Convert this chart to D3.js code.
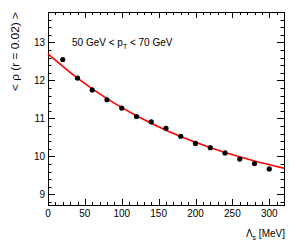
<!DOCTYPE html>
<html><head><meta charset="utf-8">
<script src="https://cdn.jsdelivr.net/npm/d3@7"></script>
<style>body{margin:0;background:#fff}svg{display:block}text{font-family:"Liberation Sans",Arial,sans-serif;fill:#000}</style>
</head><body>
<svg id="c" width="300" height="245"></svg>
<script>
const lambdaS = [20,40,60,80,100,120,140,160,180,200,220,240,260,280,300];
const rho = [12.55,12.06,11.75,11.49,11.27,11.05,10.91,10.74,10.53,10.34,10.23,10.09,9.93,9.81,9.67];
const fitX = [0,40,80,120,160,200,240,280,320];
const fitY = [12.70,12.06,11.52,11.07,10.69,10.37,10.10,9.88,9.69];
const xTicks = [0,50,100,150,200,250,300];
const yTicks = [9,10,11,12,13];

const svg = d3.select("#c");
const L=48,R=284,T=12,B=205;
const x = d3.scaleLinear().domain([0,320]).range([L,R]);
const y = d3.scaleLinear().domain([8.72,13.8]).range([B,T]);

const g = svg.append("g");
const xMinor = d3.range(0,321,10);
const yMinor = d3.range(8.8,13.81,0.2).map(v=>+v.toFixed(2));
function tick(x1,y1,x2,y2){g.append("line").attr("x1",x1).attr("y1",y1).attr("x2",x2).attr("y2",y2).attr("stroke","#000").attr("stroke-width",1);}
xMinor.forEach(v=>{
  const maj = v%50===0; const len = maj?6:3; const px=Math.round(x(v))+0.5;
  tick(px,B,px,B-len); tick(px,T,px,T+len);
});
yMinor.forEach(v=>{
  if(v<8.72||v>13.8) return;
  const maj = Math.abs(v-Math.round(v))<1e-6; const len = maj?7:3.5; const py=Math.round(y(v))+0.5;
  tick(L,py,L+len,py); tick(R,py,R-len,py);
});
g.append("rect").attr("x",L+0.5).attr("y",T+0.5).attr("width",R-L).attr("height",B-T).attr("fill","none").attr("stroke","#000").attr("stroke-width",1);

svg.selectAll(".xl").data(xTicks).enter().append("text").attr("x",d=>x(d)).attr("y",217)
  .attr("text-anchor","middle").attr("font-size","10px").text(d=>d);
svg.selectAll(".yl").data(yTicks).enter().append("text").attr("x",45).attr("y",d=>y(d)+3.6)
  .attr("text-anchor","end").attr("font-size","10px").text(d=>d);

const line = d3.line().x((d,i)=>x(fitX[i])).y(d=>y(d)).curve(d3.curveMonotoneX);
svg.append("path").attr("d",line(fitY)).attr("fill","none").attr("stroke","#ff0000").attr("stroke-width",1.6);

svg.selectAll(".pt").data(rho).enter().append("circle").attr("cx",(d,i)=>x(lambdaS[i])).attr("cy",d=>y(d)).attr("r",2.6).attr("fill","#000");

const t = svg.append("text").attr("x",72).attr("y",46).attr("font-size","10px");
t.append("tspan").text("50 GeV < p");
t.append("tspan").attr("font-size","7px").attr("dy",3).text("T");
t.append("tspan").attr("dy",-3).text(" < 70 GeV");

const xt = svg.append("text").attr("x",285).attr("y",237).attr("text-anchor","end").attr("font-size","10px");
xt.append("tspan").text("Λ");
xt.append("tspan").attr("font-size","7px").attr("dy",3).text("s");
xt.append("tspan").attr("dy",-3).text(" [MeV]");

svg.append("text").attr("transform","translate(19,12) rotate(-90)").attr("text-anchor","end").attr("font-size","10px")
  .attr("textLength",79).attr("lengthAdjust","spacingAndGlyphs").text("< ρ (r = 0.02) >");
</script>
</body></html>
